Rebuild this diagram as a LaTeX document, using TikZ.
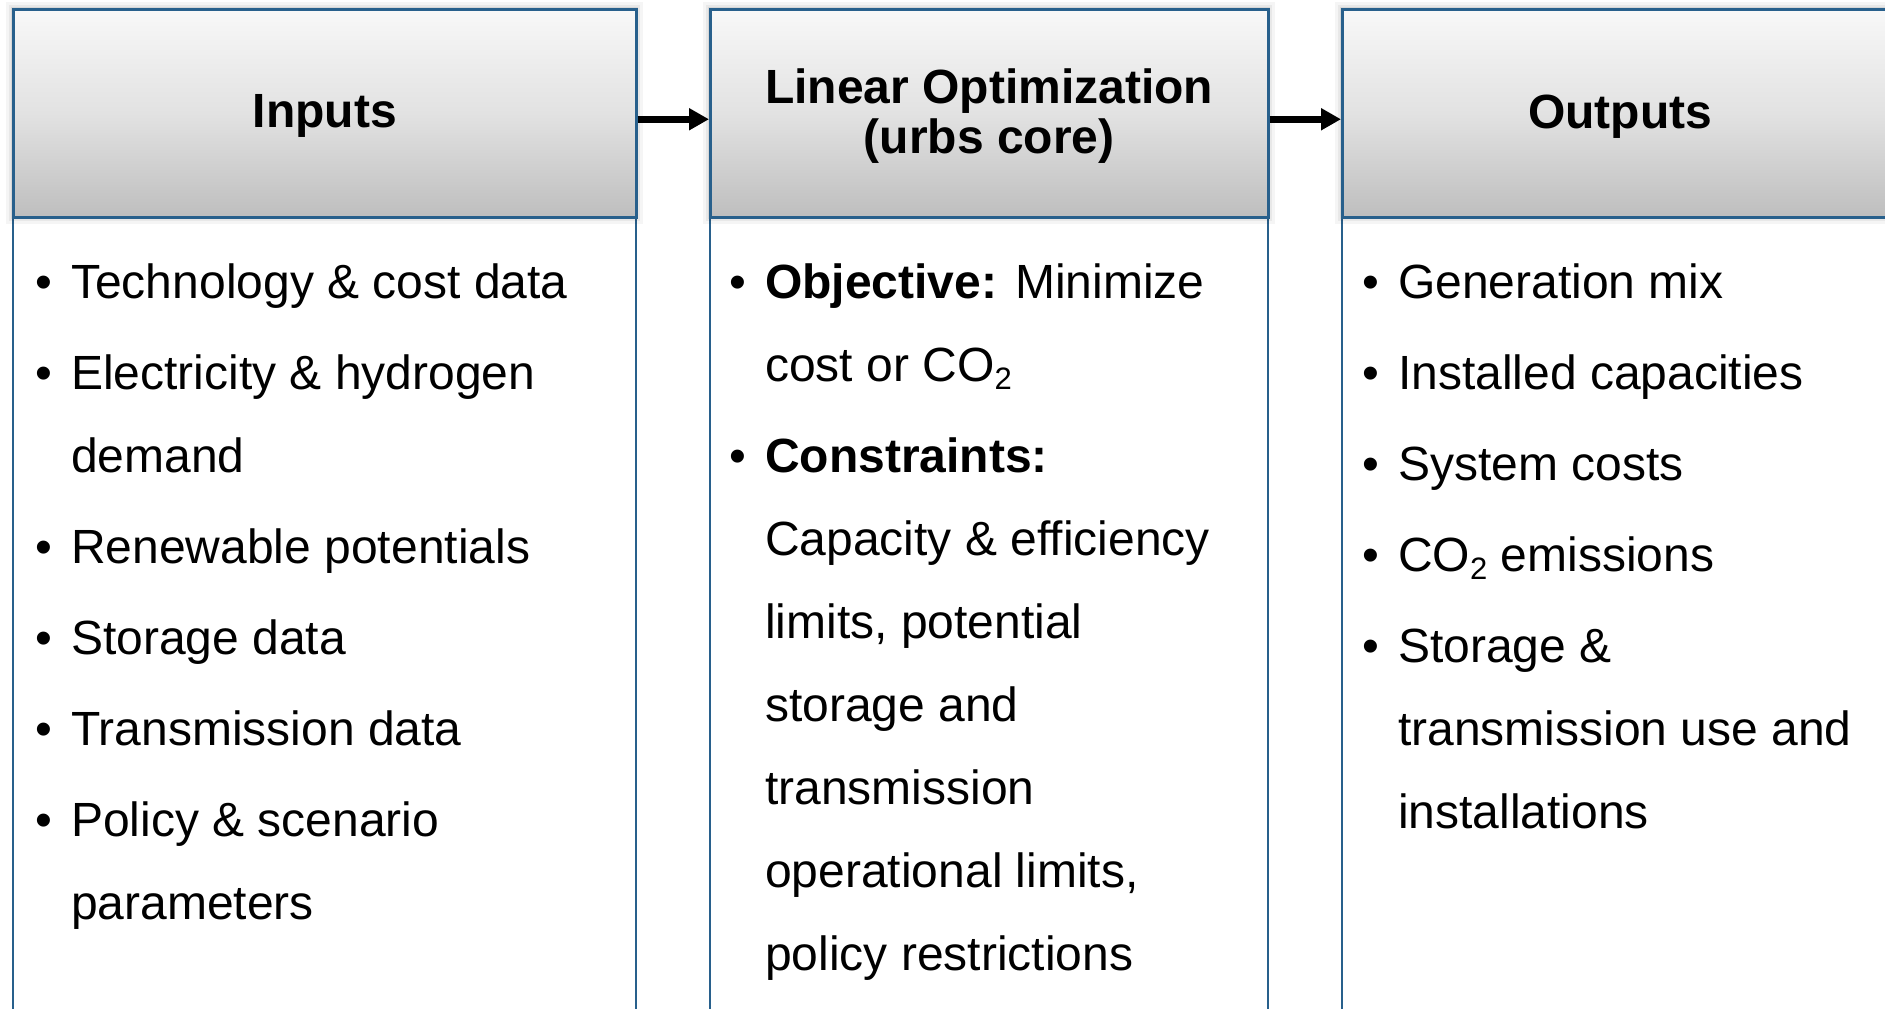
\documentclass[tikz,border=0pt]{standalone}
\usepackage{fontspec}
\setmainfont{Liberation Sans}
\usetikzlibrary{arrows.meta}

\definecolor{frameblue}{RGB}{40,96,140}
\definecolor{headtop}{RGB}{248,248,248}
\definecolor{headmid}{RGB}{226,226,226}
\definecolor{headbot}{RGB}{190,190,190}

% bullet hung in the left margin of a list paragraph
\newcommand\bul{\leavevmode\llap{\makebox[36pt][l]{•}}}
% lowered small "2" for CO2
\newcommand\subtwo{\raisebox{-8pt}{\fontsize{31}{31}\selectfont 2}}
% list environment used in the three columns
\newenvironment{collist}{\begin{minipage}[t]{600pt}\fontsize{48}{83}\selectfont
  \parindent=0pt\parskip=8pt\raggedright}{\end{minipage}}

\tikzset{
  headbox/.style={draw=frameblue, line width=2.5pt, shading=axis,
    top color=headtop, bottom color=headbot, middle color=headmid,
    anchor=north west, minimum height=208pt, inner sep=0pt,
    font=\fontsize{48}{50}\selectfont\bfseries, align=center,
    preaction={draw=black, opacity=0.04, line width=14pt},
    preaction={draw=black, opacity=0.05, line width=8pt},
    preaction={draw=black, opacity=0.07, line width=4pt}},
  headtext/.style={font=\fontsize{48}{50}\selectfont\bfseries, align=center,
    inner sep=0pt},
  bodybox/.style={draw=frameblue, line width=2pt, fill=white,
    anchor=north west, minimum height=900pt, inner sep=0pt},
  listtext/.style={anchor=base west, inner sep=0pt},
  flow/.style={line width=7pt, -{Triangle[length=20pt,width=21pt]}}
}

\begin{document}
\begin{tikzpicture}[x=1pt,y=-1pt]
\useasboundingbox (0,0) rectangle (1885,1009);
\clip (0,0) rectangle (1885,1009);
\fill[white] (0,0) rectangle (1885,1009);

% column bodies
\node[bodybox, minimum width=623pt] (inbody)  at (12,216) {};
\node[bodybox, minimum width=558pt] (optbody) at (709,216) {};
\node[bodybox, minimum width=556pt] (outbody) at (1341,216) {};

% column headers
\node[headbox, minimum width=623pt] (inhead)  at (12,8) {};
\node[headbox, minimum width=558pt] (opthead) at (709,8) {};
\node[headbox, minimum width=556pt] (outhead) at (1341,8) {};

% header titles
\node[headtext] (intitle)  at ([yshift=-3pt]inhead.center)  {Inputs};
\node[headtext] (opttitle) at ([yshift=-3pt]opthead.center) {Linear Optimization\\(urbs core)};
\node[headtext] (outtitle) at ([yshift=-3pt]outhead.center) {Outputs};

% flow between stages
\draw[flow] ([yshift=-6pt]inhead.east) -- ([yshift=-6pt]opthead.west);
\draw[flow] ([yshift=-6pt]opthead.east) -- ([yshift=-6pt]outhead.west);

% column contents
\node[listtext] (inlist) at (71,298) {\begin{collist}
\bul Technology \& cost data\par
\bul Electricity \& hydrogen\newline demand\par
\bul Renewable potentials\par
\bul Storage data\par
\bul Transmission data\par
\bul Policy \& scenario\newline parameters\par
\end{collist}};

\node[listtext] (optlist) at (765,298) {\begin{collist}
\bul\textbf{Objective:} Minimize\newline cost or CO\subtwo\par
\bul\textbf{Constraints:}\newline Capacity \& efficiency\newline limits, potential\newline
storage and\newline transmission\newline operational limits,\newline policy restrictions\par
\end{collist}};

\node[listtext] (outlist) at (1398,298) {\begin{collist}
\bul Generation mix\par
\bul Installed capacities\par
\bul System costs\par
\bul CO\subtwo{} emissions\par
\bul Storage \&\newline transmission use and\newline installations\par
\end{collist}};
\end{tikzpicture}
\end{document}
